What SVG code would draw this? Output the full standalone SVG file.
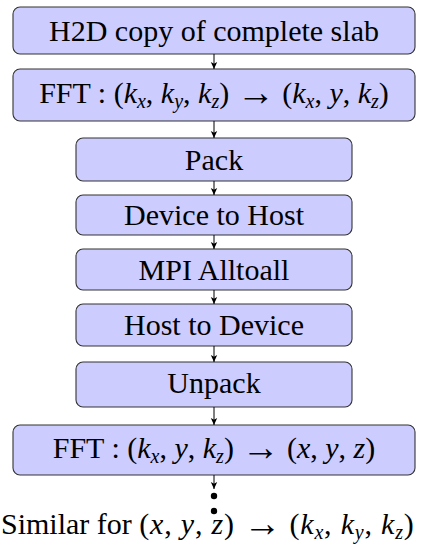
<svg xmlns="http://www.w3.org/2000/svg" width="422" height="544" viewBox="0 0 422 544">
<defs>
<marker id="ah" markerWidth="8" markerHeight="8" refX="7" refY="4" orient="auto" markerUnits="userSpaceOnUse">
<path d="M0,0.8 L7,4 L0,7.2 L1.8,4 Z" fill="#000"/>
</marker>
<style>
.box{fill:#ccccff;stroke:#333;stroke-width:1.1}
.t{font-family:'Liberation Serif','DejaVu Serif',serif;font-size:30px;fill:#000;text-anchor:middle}
.l{text-anchor:start}
.i{font-style:italic}
.s{font-size:20px;font-style:italic}
.a{font-size:38px}
.w{letter-spacing:0.8px}
.c{stroke:#000;stroke-width:1;fill:none;marker-end:url(#ah)}
</style>
</defs>
<g id="n1"><rect class="box" x="13" y="7" width="402" height="47" rx="7"/><text class="t" x="214" y="41">H2D copy of complete slab</text></g>
<g id="n2"><rect class="box" x="13" y="69" width="402" height="52" rx="7"/><text class="t" x="214" y="103">FFT : (<tspan class="i">k</tspan><tspan class="s" dy="5">x</tspan><tspan dy="-5">, </tspan><tspan class="i">k</tspan><tspan class="s" dy="5">y</tspan><tspan dy="-5">, </tspan><tspan class="i">k</tspan><tspan class="s" dy="5">z</tspan><tspan dy="-5">)  </tspan><tspan class="a" dy="2">→</tspan><tspan dy="-2">  (</tspan><tspan class="i">k</tspan><tspan class="s" dy="5">x</tspan><tspan dy="-5">, </tspan><tspan class="i">y</tspan>, <tspan class="i">k</tspan><tspan class="s" dy="5">z</tspan><tspan dy="-5">)</tspan></text></g>
<g id="n3"><rect class="box" x="76" y="138" width="276" height="43" rx="7"/><text class="t" x="214" y="170">Pack</text></g>
<g id="n4"><rect class="box" x="76" y="195" width="276" height="40" rx="7"/><text class="t" x="214" y="225">Device to Host</text></g>
<g id="n5"><rect class="box" x="76" y="249" width="276" height="41" rx="7"/><text class="t" x="214" y="280">MPI Alltoall</text></g>
<g id="n6"><rect class="box" x="76" y="304" width="276" height="42" rx="7"/><text class="t" x="214" y="335">Host to Device</text></g>
<g id="n7"><rect class="box" x="76" y="362" width="276" height="45" rx="7"/><text class="t" x="214" y="393">Unpack</text></g>
<g id="n8"><rect class="box" x="13" y="425" width="402" height="50" rx="7"/><text class="t" x="214" y="458">FFT : (<tspan class="i">k</tspan><tspan class="s" dy="5">x</tspan><tspan dy="-5">, </tspan><tspan class="i">y</tspan>, <tspan class="i">k</tspan><tspan class="s" dy="5">z</tspan><tspan dy="-5">)  </tspan><tspan class="a" dy="2">→</tspan><tspan dy="-2">  (</tspan><tspan class="i">x</tspan>, <tspan class="i">y</tspan>, <tspan class="i">z</tspan>)</text></g>
<g id="n9"><circle cx="214" cy="496" r="3.2" fill="#000"/><circle cx="214" cy="511" r="3.2" fill="#000"/><text class="t l" x="1" y="534">Similar for <tspan class="w">(<tspan class="i">x</tspan>, <tspan class="i">y</tspan>, <tspan class="i">z</tspan>) </tspan><tspan class="a" dy="2">→</tspan><tspan class="w" dy="-2"> (<tspan class="i">k</tspan><tspan class="s" dy="5">x</tspan><tspan dy="-5">, </tspan><tspan class="i">k</tspan><tspan class="s" dy="5">y</tspan><tspan dy="-5">, </tspan><tspan class="i">k</tspan><tspan class="s" dy="5">z</tspan><tspan dy="-5">)</tspan></tspan></text></g>
<g id="connectors">
<line class="c" x1="214" y1="54" x2="214" y2="69"/>
<line class="c" x1="214" y1="121" x2="214" y2="138"/>
<line class="c" x1="214" y1="181" x2="214" y2="195"/>
<line class="c" x1="214" y1="235" x2="214" y2="249"/>
<line class="c" x1="214" y1="290" x2="214" y2="304"/>
<line class="c" x1="214" y1="346" x2="214" y2="362"/>
<line class="c" x1="214" y1="407" x2="214" y2="425"/>
<line class="c" x1="214" y1="475" x2="214" y2="489"/>
</g>
</svg>
